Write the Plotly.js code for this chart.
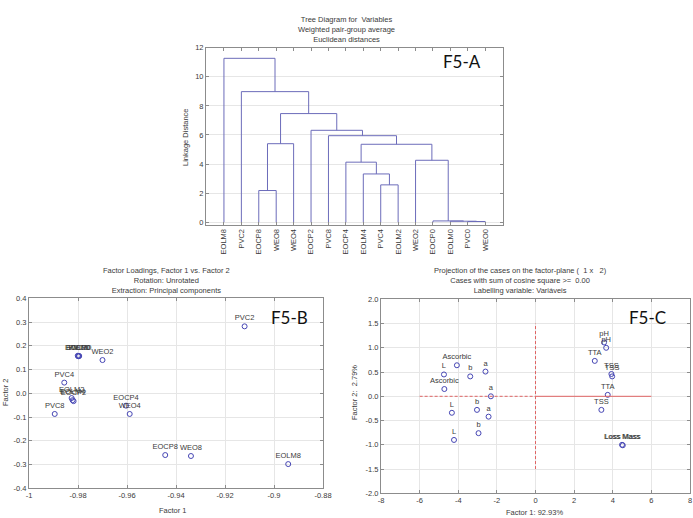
<!DOCTYPE html>
<html>
<head>
<meta charset="utf-8">
<script src="https://cdn.plot.ly/plotly-3.0.1.min.js"></script>
<style>
  html, body { margin: 0; padding: 0; background: #ffffff; }
  #chart { width: 693px; height: 518px; }
</style>
</head>
<body>
<div id="chart"></div>
<script>
// ---------- F5-A: tree diagram (weighted pair-group average) ----------
const leaves = ['EOLM8', 'PVC2', 'EOCP8', 'WEO8', 'WEO4', 'EOCP2', 'PVC8', 'EOCP4',
                'EOLM4', 'PVC4', 'EOLM2', 'WEO2', 'EOCP0', 'EOLM0', 'PVC0', 'WEO0'];
// each merge: [left node, right node, linkage distance]; nodes >= 16 are earlier merges
const mergeLeft   = [14, 13, 12, 2, 9, 8, 7, 11, 22, 19, 6, 5, 25, 1, 0];
const mergeRight  = [15, 16, 17, 3, 10, 20, 21, 18, 23, 4, 24, 26, 27, 28, 29];
const mergeHeight = [0.05, 0.07, 0.09, 2.18, 2.57, 3.32, 4.13, 4.26, 5.36, 5.40, 5.95, 6.32, 7.47, 8.98, 11.27];
const distTicks = [0, 2, 4, 6, 8, 10, 12];

// ---------- F5-B: factor loadings ----------
const loadNames = ['PVC2', 'WEO2', 'EOCP0', 'EOLM0', 'PVC0', 'WEO0', 'PVC4', 'EOLM2',
                   'EOLM4', 'EOCP2', 'PVC8', 'EOCP4', 'WEO4', 'EOCP8', 'WEO8', 'EOLM8'];
const loadF1 = [-0.912, -0.970, -0.9801, -0.9797, -0.9799, -0.9795, -0.9856, -0.9826,
                -0.9822, -0.9818, -0.9895, -0.9604, -0.9589, -0.9444, -0.9339, -0.8942];
const loadF2 = [0.282, 0.140, 0.158, 0.157, 0.156, 0.157, 0.045, -0.020,
                -0.029, -0.033, -0.087, -0.052, -0.087, -0.260, -0.264, -0.298];
const loadXTicks = [-1, -0.98, -0.96, -0.94, -0.92, -0.9, -0.88];
const loadXText  = ['-1', '-0.98', '-0.96', '-0.94', '-0.92', '-0.9', '-0.88'];
const loadYTicks = [0.4, 0.3, 0.2, 0.1, 0, -0.1, -0.2, -0.3, -0.4];
const loadYText  = ['0.4', '0.3', '0.2', '0.1', '0.0', '-0.1', '-0.2', '-0.3', '-0.4'];

// ---------- F5-C: projection of the cases ----------
const caseNames = ['pH', 'pH', 'TTA', 'TSS', 'TSS', 'TTA', 'TSS', 'Loss Mass', 'Loss Mass',
                   'Ascorbic', 'L', 'b', 'a', 'Ascorbic', 'a', 'L', 'b', 'a', 'L', 'b'];
const caseF1 = [3.55, 3.66, 3.07, 3.93, 3.97, 3.74, 3.41, 4.48, 4.52,
                -4.07, -4.74, -3.38, -2.59, -4.72, -2.31, -4.33, -3.03, -2.43, -4.22, -2.95];
const caseF2 = [1.11, 1.00, 0.73, 0.46, 0.41, 0.03, -0.28, -1.00, -1.01,
                0.64, 0.45, 0.41, 0.51, 0.15, 0.00, -0.34, -0.28, -0.42, -0.90, -0.76];
const caseXTicks = [-8, -6, -4, -2, 0, 2, 4, 6, 8];
const caseXText  = ['-8', '-6', '-4', '-2', '0', '2', '4', '6', '8'];
const caseYTicks = [2, 1.5, 1, 0.5, 0, -0.5, -1, -1.5, -2];
const caseYText  = ['2.0', '1.5', '1.0', '0.5', '0.0', '-0.5', '-1.0', '-1.5', '-2.0'];

// ---------- build dendrogram segments ----------
const nodeX = leaves.map((_, i) => i + 1);
const nodeH = leaves.map(() => 0);
const treeX = [], treeY = [];
mergeHeight.forEach((h, k) => {
  const a = mergeLeft[k], b = mergeRight[k];
  treeX.push(nodeX[a], nodeX[a], nodeX[b], nodeX[b], null);
  treeY.push(nodeH[a], h, h, nodeH[b], null);
  nodeX.push((nodeX[a] + nodeX[b]) / 2);
  nodeH.push(h);
});

// ---------- layout helpers (figure is 693 x 518 px, no margins) ----------
const W = 693, H = 518;
const px = x => x / W;
const py = y => 1 - y / H;

const FONT = 'Liberation Sans, Arial, sans-serif';
const TXT = '#3a3a3a';
const FRAME = '#8c8c8c';
const GRID = '#e6e6e6';
const MARK = '#4646b4';

function axisBase(extra) {
  return Object.assign({
    showline: true, linecolor: FRAME, linewidth: 1, mirror: 'ticks',
    ticks: 'inside', ticklen: 3, tickcolor: FRAME,
    zeroline: false, showgrid: true, gridcolor: GRID, gridwidth: 1,
    tickfont: { family: FONT, size: 7.5, color: TXT },
    fixedrange: true
  }, extra);
}

const traces = [
  {
    x: treeX, y: treeY, xaxis: 'x', yaxis: 'y',
    type: 'scatter', mode: 'lines',
    line: { color: '#6c6cba', width: 1 },
    hoverinfo: 'skip', showlegend: false
  },
  {
    x: loadF1, y: loadF2, text: loadNames, xaxis: 'x2', yaxis: 'y2',
    type: 'scatter', mode: 'markers+text', textposition: 'top center',
    textfont: { family: FONT, size: 7.5, color: TXT },
    marker: { symbol: 'circle-open', size: 5, color: MARK, line: { width: 1, color: MARK } },
    cliponaxis: false, showlegend: false
  },
  {
    x: caseF1, y: caseF2, text: caseNames, xaxis: 'x3', yaxis: 'y3',
    type: 'scatter', mode: 'markers+text', textposition: 'top center',
    textfont: { family: FONT, size: 7.5, color: TXT },
    marker: { symbol: 'circle-open', size: 5, color: MARK, line: { width: 1, color: MARK } },
    cliponaxis: false, showlegend: false
  }
];

function note(text, x, y, opts) {
  return Object.assign({
    text: text, xref: 'paper', yref: 'paper', x: px(x), y: py(y),
    xanchor: 'center', yanchor: 'middle', showarrow: false,
    font: { family: FONT, size: 7.5, color: TXT }
  }, opts || {});
}

const PANEL_FONT = { family: 'Lato, Liberation Sans, sans-serif', size: 17, color: '#111' };

const annotations = [
  note('Tree Diagram for  Variables<br>Weighted pair-group average<br>Euclidean distances', 346, 30),
  note('Linkage Distance', 185, 137, { textangle: -90 }),
  note('F5-A', 462, 62, { font: PANEL_FONT }),

  note('Factor Loadings, Factor 1 vs. Factor 2<br>Rotation: Unrotated<br>Extraction: Principal components', 166, 280.5),
  note('Factor 1', 173, 510),
  note('Factor 2', 5, 392, { textangle: -90 }),
  note('F5-B', 289, 317, { font: PANEL_FONT }),

  note('Projection of the cases on the factor-plane (  1 x   2)<br>Cases with sum of cosine square >=  0.00<br>Labelling variable: Variáveis', 520, 280.5),
  note('Factor 1: 92.93%', 534, 512),
  note('Factor 2:  2.79%', 354, 393, { textangle: -90 }),
  note('F5-C', 647, 317, { font: PANEL_FONT })
];

const RED = '#e06464';
const shapes = [
  { type: 'line', xref: 'x3', yref: 'y3', x0: -6, x1: 0, y0: 0, y1: 0, line: { color: RED, width: 1, dash: '3px,2px' } },
  { type: 'line', xref: 'x3', yref: 'y3', x0: 0, x1: 6, y0: 0, y1: 0, line: { color: RED, width: 1 } },
  { type: 'line', xref: 'x3', yref: 'y3', x0: 0, x1: 0, y0: -1.5, y1: 1.5, line: { color: RED, width: 1, dash: '3px,2px' } }
];

const layout = {
  width: W, height: H, autosize: false,
  margin: { l: 0, r: 0, t: 0, b: 0, pad: 0 },
  paper_bgcolor: '#ffffff', plot_bgcolor: '#ffffff',
  showlegend: false,
  font: { family: FONT, size: 7.5, color: TXT },
  xaxis: axisBase({
    domain: [px(206), px(503)], anchor: 'y', range: [-0.03, 17.02],
    tickmode: 'array', tickvals: leaves.map((_, i) => i + 1), ticktext: leaves,
    tickangle: -90, showgrid: false
  }),
  yaxis: axisBase({
    domain: [py(225), py(47.7)], anchor: 'x', range: [-0.19, 12],
    tickmode: 'array', tickvals: distTicks, ticktext: distTicks.map(String)
  }),
  xaxis2: axisBase({
    domain: [px(29), px(323)], anchor: 'y2', range: [-1, -0.88],
    tickmode: 'array', tickvals: loadXTicks, ticktext: loadXText
  }),
  yaxis2: axisBase({
    domain: [py(488.3), py(298.3)], anchor: 'x2', range: [-0.4, 0.4],
    tickmode: 'array', tickvals: loadYTicks, ticktext: loadYText
  }),
  xaxis3: axisBase({
    domain: [px(381), px(690)], anchor: 'y3', range: [-8, 8],
    tickmode: 'array', tickvals: caseXTicks, ticktext: caseXText
  }),
  yaxis3: axisBase({
    domain: [py(493.3), py(299.3)], anchor: 'x3', range: [-2, 2],
    tickmode: 'array', tickvals: caseYTicks, ticktext: caseYText
  }),
  annotations: annotations,
  shapes: shapes
};

Plotly.newPlot('chart', traces, layout, { displayModeBar: false, staticPlot: true });
</script>
</body>
</html>
